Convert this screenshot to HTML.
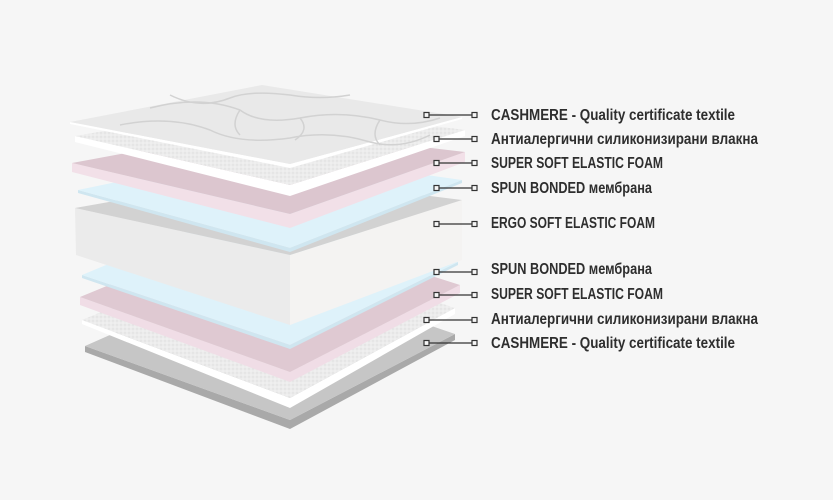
<!DOCTYPE html>
<html><head><meta charset="utf-8"><style>
html,body{margin:0;padding:0;background:#f6f6f6;}
svg{display:block}
text{font-family:"Liberation Sans","DejaVu Sans",sans-serif;font-weight:bold;font-size:16px;fill:#2e2e2e}
</style></head><body>
<svg width="833" height="500" viewBox="0 0 833 500" xmlns="http://www.w3.org/2000/svg">
<defs>
<pattern id="sp" width="4" height="4" patternUnits="userSpaceOnUse"><rect width="4" height="4" fill="#ececec"/><circle cx="1" cy="1" r="0.7" fill="#dcdcdc"/><circle cx="3" cy="3" r="0.6" fill="#f8f8f8"/></pattern>
</defs>
<rect width="833" height="500" fill="#f6f6f6"/>
<polygon points="85,346 290,420 455,334 455,340 290,429 85,352" fill="#a9a9a9"/>
<polygon points="85,346 262,268 455,334 290,420" fill="#c6c6c6"/>
<polygon points="82,320 290,398 455,308 455,314 290,408 82,324" fill="#ffffff"/>
<polygon points="82,320 262,244 455,308 290,398" fill="url(#sp)"/>
<polygon points="80,297 290,372 460,285 460,293 290,382 80,305" fill="#f0dde6"/>
<polygon points="80,297 262,222 460,285 290,372" fill="#dfc9d2"/>
<polygon points="82,275 290,345 458,262 458,265 290,349 82,278" fill="#cfe6f0"/>
<polygon points="82,275 262,200 458,262 290,345" fill="#def2fa"/>
<polygon points="75,208 290,255 290,325 76,255" fill="#ebebeb"/>
<polygon points="290,255 462,200 462,260 290,325" fill="#f4f3f2"/>
<polygon points="75,208 262,175 462,200 290,255" fill="#d2d2d2"/>
<polygon points="78,190 290,248 462,180 462,183 290,252 78,193" fill="#cfe6f0"/>
<polygon points="78,190 262,152 462,180 290,248" fill="#def2fa"/>
<polygon points="72,163 290,214 465,152 465,162 290,228 72,172" fill="#f2e0e8"/>
<polygon points="72,163 262,128 465,152 290,214" fill="#dcc6cf"/>
<polygon points="75,136 290,185 465,130 465,136 290,196 75,142" fill="#ffffff"/>
<polygon points="75,136 262,104 465,130 290,185" fill="url(#sp)"/>
<polygon points="70,122 290,164 462,117 462,119 290,168 70,124" fill="#ffffff"/>
<polygon points="70,122 262,85 462,117 290,164" fill="#e9e9e9"/>
<g fill="none" stroke="#d2d2d2" stroke-width="1.5">
<path d="M150,108 Q200,95 240,110 Q260,125 300,118 Q340,110 380,120 Q410,128 440,118"/>
<path d="M120,125 Q170,115 210,130 Q240,145 290,138 Q330,130 370,142 Q400,150 430,135"/>
<path d="M170,95 Q200,110 230,98 Q250,90 290,95 Q320,100 350,95"/>
<path d="M240,110 Q230,125 240,135 M300,118 Q310,130 295,140 M380,120 Q370,135 380,145"/>
</g>
<g stroke="#333" stroke-width="1.2" fill="#f6f6f6">
<line x1="427" y1="115" x2="474" y2="115"/><rect x="424" y="112.5" width="5" height="5"/><rect x="472" y="112.5" width="5" height="5"/>
<line x1="437" y1="139" x2="474" y2="139"/><rect x="434" y="136.5" width="5" height="5"/><rect x="472" y="136.5" width="5" height="5"/>
<line x1="437" y1="163" x2="474" y2="163"/><rect x="434" y="160.5" width="5" height="5"/><rect x="472" y="160.5" width="5" height="5"/>
<line x1="437" y1="188" x2="474" y2="188"/><rect x="434" y="185.5" width="5" height="5"/><rect x="472" y="185.5" width="5" height="5"/>
<line x1="437" y1="224" x2="474" y2="224"/><rect x="434" y="221.5" width="5" height="5"/><rect x="472" y="221.5" width="5" height="5"/>
<line x1="437" y1="272" x2="474" y2="272"/><rect x="434" y="269.5" width="5" height="5"/><rect x="472" y="269.5" width="5" height="5"/>
<line x1="437" y1="295" x2="474" y2="295"/><rect x="434" y="292.5" width="5" height="5"/><rect x="472" y="292.5" width="5" height="5"/>
<line x1="427" y1="320" x2="474" y2="320"/><rect x="424" y="317.5" width="5" height="5"/><rect x="472" y="317.5" width="5" height="5"/>
<line x1="427" y1="343" x2="474" y2="343"/><rect x="424" y="340.5" width="5" height="5"/><rect x="472" y="340.5" width="5" height="5"/>
</g>
<text x="491" y="120" textLength="244" lengthAdjust="spacingAndGlyphs">CASHMERE - Quality certificate textile</text>
<text x="491" y="144" textLength="267" lengthAdjust="spacingAndGlyphs">Антиалергични силиконизирани влакна</text>
<text x="491" y="168" textLength="172" lengthAdjust="spacingAndGlyphs">SUPER SOFT ELASTIC FOAM</text>
<text x="491" y="193" textLength="161" lengthAdjust="spacingAndGlyphs">SPUN BONDED мембрана</text>
<text x="491" y="228" textLength="164" lengthAdjust="spacingAndGlyphs">ERGO SOFT ELASTIC FOAM</text>
<text x="491" y="274" textLength="161" lengthAdjust="spacingAndGlyphs">SPUN BONDED мембрана</text>
<text x="491" y="299" textLength="172" lengthAdjust="spacingAndGlyphs">SUPER SOFT ELASTIC FOAM</text>
<text x="491" y="324" textLength="267" lengthAdjust="spacingAndGlyphs">Антиалергични силиконизирани влакна</text>
<text x="491" y="348" textLength="244" lengthAdjust="spacingAndGlyphs">CASHMERE - Quality certificate textile</text>
</svg>
</body></html>
